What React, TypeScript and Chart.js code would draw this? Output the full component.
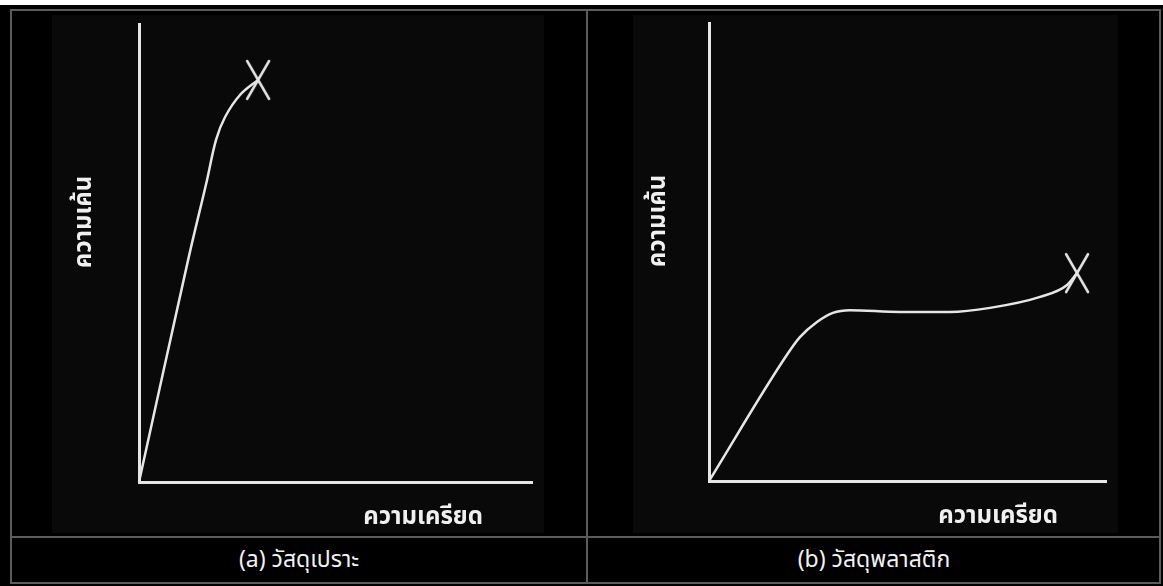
import React, { useEffect, useRef } from "react";
import { Chart, registerables } from "chart.js";

Chart.register(...registerables);

// ---- data ----
const strainLabel = "ความเครียด";
const stressLabel = "ความเค้น";
const captionA = "(a) วัสดุเปราะ";
const captionB = "(b) วัสดุพลาสติก";

// panel (a) brittle material: strain / stress (relative units 0..100)
const brittleStrain = [0, 12.5, 17.3, 19.6, 21.9, 25.7, 30.3];
const brittleStress = [0, 48.5, 65.9, 74.7, 79.7, 84.5, 87.8];

// panel (b) ductile / plastic material
const ductileStrain = [0, 19.6, 22.9, 27.2, 31.2, 35.5, 48.1, 60.7, 70.8, 83.4, 90.2, 92.7];
const ductileStress = [0, 27.5, 31.4, 34.7, 36.7, 37.3, 36.9, 36.9, 37.8, 40.2, 42.8, 45.4];

const axisMin = 0;
const axisMax = 100;

const FG = "#e6e6e6";
const THAI_FONT = "Tahoma, 'Noto Sans Thai', 'Noto Sans', 'DejaVu Sans', sans-serif";

function makeCross(): HTMLCanvasElement {
  const c = document.createElement("canvas");
  c.width = 28;
  c.height = 42;
  const ctx = c.getContext("2d")!;
  ctx.strokeStyle = FG;
  ctx.lineWidth = 2.5;
  ctx.lineCap = "round";
  ctx.beginPath();
  ctx.moveTo(3, 2);
  ctx.lineTo(25, 40);
  ctx.moveTo(25, 2);
  ctx.lineTo(3, 40);
  ctx.stroke();
  return c;
}

const axisTitlesPlugin = {
  id: "axisTitles",
  afterDraw(chart: any, _args: any, opts: any) {
    const { ctx, chartArea } = chart;
    ctx.save();
    ctx.fillStyle = "#f0f0f0";
    ctx.font = `bold 24px ${THAI_FONT}`;
    ctx.textBaseline = "middle";
    ctx.textAlign = "right";
    ctx.fillText(opts.xText, chartArea.right + opts.xDx, chartArea.bottom + opts.xDy);
    ctx.translate(chartArea.left + opts.yDx, chartArea.top + opts.yDy);
    ctx.rotate(-Math.PI / 2);
    ctx.textAlign = "center";
    ctx.fillText(opts.yText, 0, 0);
    ctx.restore();
  },
};

function Panel(props: {
  xs: number[];
  ys: number[];
  width: number;
  height: number;
  padding: { left: number; right: number; top: number; bottom: number };
  titles: any;
  tension: number;
}) {
  const ref = useRef<HTMLCanvasElement>(null);
  useEffect(() => {
    const pts = props.xs.map((x, i) => ({ x, y: props.ys[i] }));
    const last = pts[pts.length - 1];
    const chart = new Chart(ref.current!, {
      type: "line",
      data: {
        datasets: [
          {
            data: pts,
            borderColor: FG,
            borderWidth: 2.5,
            cubicInterpolationMode: props.tension > 0 ? "default" : "monotone",
            tension: props.tension,
            pointRadius: 0,
            fill: false,
            clip: false as any,
          },
          {
            data: [last],
            showLine: false,
            pointStyle: makeCross() as any,
            pointRadius: 10,
            clip: false as any,
          },
        ],
      },
      options: {
        responsive: false,
        animation: false,
        devicePixelRatio: 1,
        layout: { padding: props.padding },
        plugins: {
          legend: { display: false },
          tooltip: { enabled: false },
          axisTitles: props.titles,
        } as any,
        scales: {
          x: {
            type: "linear",
            min: axisMin,
            max: axisMax,
            ticks: { display: false },
            grid: { display: false, drawTicks: false },
            border: { display: true, color: FG, width: 3 },
          },
          y: {
            type: "linear",
            min: axisMin,
            max: axisMax,
            ticks: { display: false },
            grid: { display: false, drawTicks: false },
            border: { display: true, color: FG, width: 3 },
          },
        },
      },
      plugins: [axisTitlesPlugin],
    });
    return () => chart.destroy();
  }, []);
  return <canvas ref={ref} width={props.width} height={props.height} style={{ display: "block" }} />;
}

const abs = (l: number, t: number, w: number, h: number, extra: any = {}) => ({
  position: "absolute" as const,
  left: l,
  top: t,
  width: w,
  height: h,
  ...extra,
});

export default function App() {
  const captionStyle = {
    color: "#f2f2f2",
    font: `23px ${THAI_FONT}`,
    display: "flex",
    alignItems: "center",
    justifyContent: "center",
  };
  return (
    <div style={abs(0, 0, 1163, 586, { position: "fixed", background: "#000", overflow: "hidden" })}>
      <div style={abs(0, 0, 1163, 5, { background: "#fff" })} />
      <div style={abs(52, 15, 492, 518, { background: "#090909" })} />
      <div style={abs(633, 15, 485, 518, { background: "#090909" })} />
      <div style={abs(10, 9, 1151, 575, { border: "2px solid #5c5c5c", boxSizing: "border-box" })} />
      <div style={abs(586, 9, 2, 575, { background: "#5c5c5c" })} />
      <div style={abs(10, 536, 1151, 2, { background: "#5c5c5c" })} />
      <div style={abs(11, 11, 575, 525)}>
        <Panel
          xs={brittleStrain}
          ys={brittleStress}
          width={575}
          height={525}
          tension={0.35}
          padding={{ left: 128, right: 54, top: 13, bottom: 54 }}
          titles={{ xText: strainLabel, xDx: -49, xDy: 37, yText: stressLabel, yDx: -53, yDy: 198 }}
        />
      </div>
      <div style={abs(588, 11, 572, 525)}>
        <Panel
          xs={ductileStrain}
          ys={ductileStress}
          width={572}
          height={525}
          tension={0}
          padding={{ left: 121, right: 54, top: 12, bottom: 55 }}
          titles={{ xText: strainLabel, xDx: -48, xDy: 37, yText: stressLabel, yDx: -49, yDy: 198 }}
        />
      </div>
      <div style={abs(12, 538, 574, 44, captionStyle)}>{captionA}</div>
      <div style={abs(588, 538, 572, 44, captionStyle)}>{captionB}</div>
    </div>
  );
}
